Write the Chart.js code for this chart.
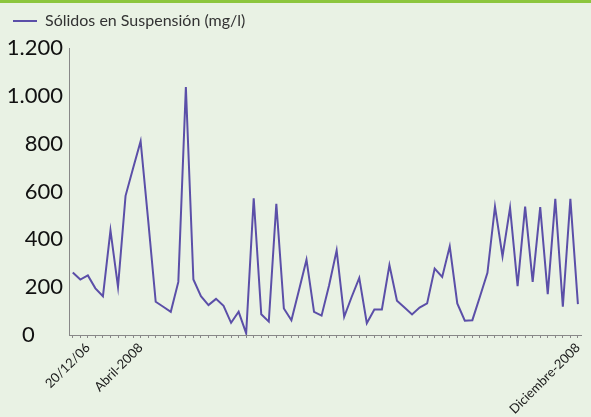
<!DOCTYPE html>
<html>
<head>
<meta charset="utf-8">
<script src="https://cdn.jsdelivr.net/npm/chart.js@4"></script>
<style>
  html, body { margin: 0; padding: 0; background: #e9f2e4; }
  #wrap { position: relative; width: 591px; height: 417px; }
  #topline { position: absolute; left: 0; top: 0; width: 591px; height: 3px; background: #8cc63e; }
</style>
</head>
<body>
<div id="wrap">
  <div id="topline"></div>
  <canvas id="solidosChart" width="591" height="417"></canvas>
</div>
<script>
// valores (mg/l)
const serieNombre = 'Sólidos en Suspensión (mg/l)';
const solidos = [
    261, 232, 249, 195, 162, 437, 201, 582, 697, 810,
    480, 139, 118, 97, 222, 1037, 232, 162, 125, 151,
    122, 51, 97, 7, 572, 87, 56, 549, 111, 62,
    187, 315, 97, 81, 208, 354, 76, 160, 239, 49,
    107, 107, 292, 143, 115, 86, 115, 132, 278, 243,
    371, 132, 60, 62, 160, 260, 537, 329, 532, 204,
    537, 222, 535, 171, 569, 118, 569, 129
];
// etiquetas del eje X (solo algunas visibles)
const etiquetasVisibles = { 2: '20/12/06', 9: 'Abril-2008', 67: 'Diciembre-2008' };
const categorias = solidos.map((v, i) => etiquetasVisibles[i] || '');
// el "0" aparece más a la izquierda en el original
const yTickLabels = ['0     ', '200', '400', '600', '800', '1.000', '1.200'];

// deja algo más de espacio bajo la leyenda
const legendMargin = {
    id: 'legendMargin',
    beforeInit(chart) {
        const fit = chart.legend.fit;
        chart.legend.fit = function () {
            fit.bind(chart.legend)();
            this.height += 9;
        };
    }
};

const ctx = document.getElementById('solidosChart').getContext('2d');
new Chart(ctx, {
    type: 'line',
    data: {
        labels: categorias,
        datasets: [{
            label: serieNombre,
            data: solidos,
            borderColor: '#5b4fa8',
            backgroundColor: '#5b4fa8',
            borderWidth: 2,
            pointRadius: 0,
            tension: 0,
            fill: false
        }]
    },
    plugins: [legendMargin],
    options: {
        responsive: false,
        animation: false,
        layout: { padding: { left: 0, right: 8, top: 0, bottom: 0 } },
        plugins: {
            legend: {
                position: 'top',
                align: 'start',
                labels: {
                    usePointStyle: true,
                    pointStyle: 'line',
                    pointStyleWidth: 24,
                    padding: 13,
                    color: '#333333',
                    font: { family: 'Lato', size: 16 }
                }
            },
            tooltip: { enabled: false }
        },
        scales: {
            x: {
                offset: true,
                grid: { display: true, drawOnChartArea: false, tickLength: 3, color: '#888888' },
                border: { display: true, color: '#888888', width: 1 },
                ticks: {
                    autoSkip: false,
                    maxRotation: 45,
                    minRotation: 45,
                    padding: 2,
                    color: '#1a1a1a',
                    font: { family: 'Lato', size: 13 }
                },
                afterFit: (s) => { s.height = 82; }
            },
            y: {
                min: 0,
                max: 1200,
                grid: { display: false, drawTicks: false },
                border: { display: true, color: '#888888', width: 1 },
                ticks: {
                    stepSize: 200,
                    padding: 6,
                    color: '#111111',
                    font: { family: 'Lato', size: 22 },
                    callback: (v) => yTickLabels[v / 200]
                },
                afterFit: (s) => { s.width = 69; }
            }
        }
    }
});
</script>
</body>
</html>
